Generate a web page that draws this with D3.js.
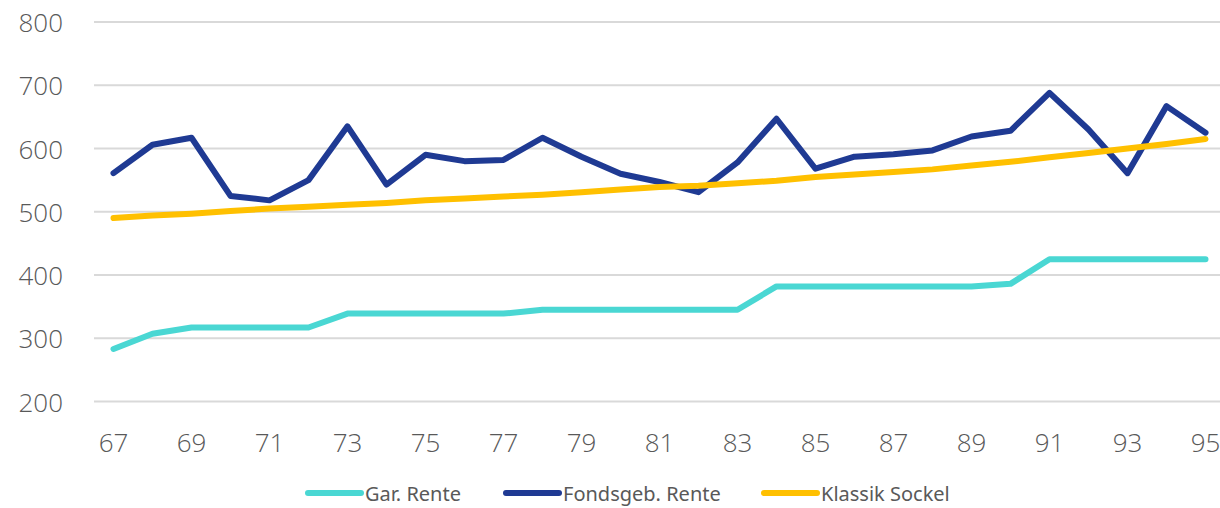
<!DOCTYPE html>
<html><head><meta charset="utf-8">
<script src="https://cdn.jsdelivr.net/npm/d3@7"></script>
<style>body{margin:0;background:#fff;overflow:hidden}</style>
</head><body><svg id="c" width="1220" height="508"></svg>
<script>
const years = [67,68,69,70,71,72,73,74,75,76,77,78,79,80,81,82,83,84,85,86,87,88,89,90,91,92,93,94,95];
const garRente = [283,307,317,317,317,317,339,339,339,339,339,345,345,345,345,345,345,382,382,382,382,382,382,386,425,425,425,425,425];
const fondsRente = [561,606,617,525,518,550,635,543,590,580,582,617,587,560,547,531,578,647,568,587,591,597,619,628,688,630,561,667,625];
const klassikSockel = [490,494,497,501,505,508,511,514,518,521,524,527,531,535,539,541,545,549,555,559,563,567,573,579,586,593,600,607,615];
const yTicks = [200,300,400,500,600,700,800];
const xTickLabels = years.filter((d,i)=>i%2===0);
const seriesNames = ["Gar. Rente","Fondsgeb. Rente","Klassik Sockel"];
const colors = ["#4AD7D3","#1F3A93","#FFC000"];

const svg = d3.select("#c");
const x = d3.scaleBand().domain(years).range([94,1225]);
const y = d3.scaleLinear().domain([200,800]).range([401.5,22]);
const cx = d => x(d)+x.bandwidth()/2;

const g = svg.append("g");
g.selectAll("line.grid").data(yTicks).join("line")
  .attr("x1",94).attr("x2",1225).attr("y1",d=>y(d)).attr("y2",d=>y(d))
  .attr("stroke","#d9d9d9").attr("stroke-width",2);

g.selectAll("text.yl").data(yTicks).join("text")
  .attr("x",63).attr("y",d=>y(d)).attr("text-anchor","end").attr("dominant-baseline","central")
  .attr("font-family","Open Sans").attr("font-weight",300).attr("font-size",26).attr("fill","#595959")
  .text(d=>d);

g.selectAll("text.xl").data(xTickLabels).join("text")
  .attr("x",d=>cx(d)).attr("y",442).attr("text-anchor","middle").attr("dominant-baseline","central")
  .attr("font-family","Open Sans").attr("font-weight",300).attr("font-size",26).attr("fill","#595959")
  .text(d=>d);

const line = d3.line().x((d,i)=>cx(years[i])).y(d=>y(d));
[garRente,fondsRente,klassikSockel].forEach((s,i)=>{
  g.append("path").datum(s).attr("d",line).attr("fill","none")
   .attr("stroke",colors[i]).attr("stroke-width",6).attr("stroke-linejoin","round").attr("stroke-linecap","round");
});

const legX = [306,504,762];
const leg = g.selectAll("g.leg").data(seriesNames).join("g").attr("transform",(d,i)=>`translate(${legX[i]},493)`);
leg.append("line").attr("x1",2).attr("x2",55).attr("y1",0).attr("y2",0)
  .attr("stroke",(d,i)=>colors[i]).attr("stroke-width",6).attr("stroke-linecap","round");
leg.append("text").attr("x",59).attr("y",0).attr("dominant-baseline","central")
  .attr("font-family","Noto Sans").attr("font-size",20).attr("fill","#595959").text(d=>d);
</script></body></html>
